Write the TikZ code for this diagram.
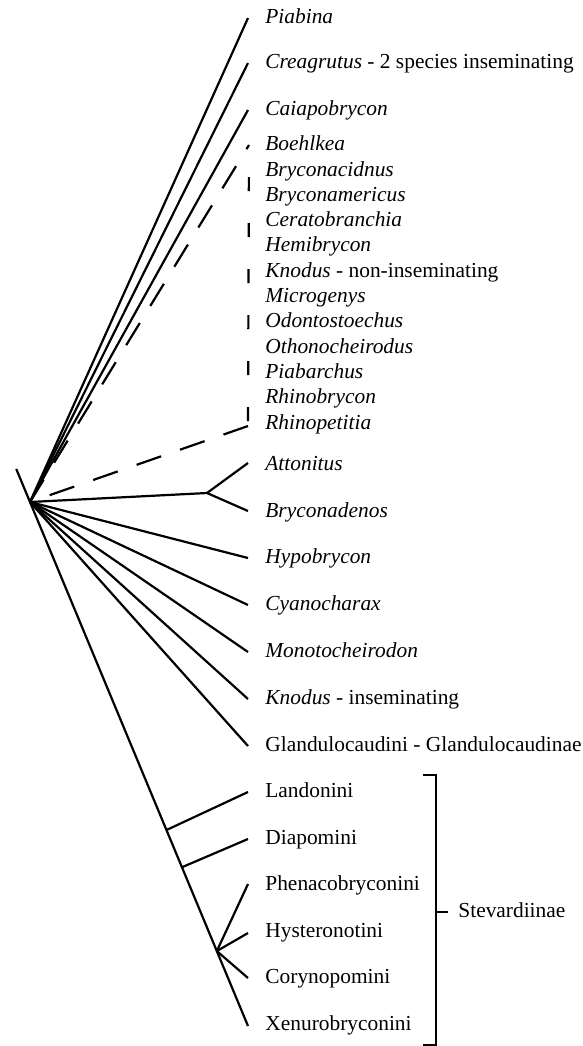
\documentclass[tikz,border=0pt]{standalone}
\usepackage{fontspec}
\setmainfont{Liberation Serif}
\usetikzlibrary{positioning,calc}

\begin{document}
\begin{tikzpicture}[x=0.5pt,y=-0.5pt,
    every node/.style={font=\fontsize{10.7}{12}\selectfont},
    taxon/.style={anchor=west, inner sep=0pt, text height=1.5ex, text depth=.25ex},
    branch/.style={draw=black, line width=1.1pt},
    dashbranch/.style={branch, dash pattern=on 13pt off 10pt}]
  \useasboundingbox (0,0) rectangle (583,1046);
  \coordinate (root) at (30,502);
  % three solid lines on top
  \foreach \nm/\yy/\lab in {piab/18/\textit{Piabina},
      creag/63/{\textit{Creagrutus} - 2 species inseminating},
      caiap/110/\textit{Caiapobrycon}} {
    \coordinate (t\nm) at (248,\yy);
    \node[taxon] (\nm) at (265,\yy) {\lab};
    \draw[branch] (root) -- (t\nm);
  }
  % dashed group
  \coordinate (dTop) at (249,145);
  \coordinate (dBot) at (248,426);
  \draw[dashbranch] (root) -- (dTop);
  \draw[branch, dash pattern=on 7pt off 16pt, dash phase=7pt] (dTop) -- (dBot);
  \draw[dashbranch] (dBot) -- (root);
  \foreach \lab [count=\i from 0] in {\textit{Boehlkea},\textit{Bryconacidnus},
      \textit{Bryconamericus},\textit{Ceratobranchia},\textit{Hemibrycon},
      {\textit{Knodus} - non-inseminating},\textit{Microgenys},\textit{Odontostoechus},
      \textit{Othonocheirodus},\textit{Piabarchus},\textit{Rhinobrycon},\textit{Rhinopetitia}}
    \node[taxon] (g\i) at (265,{145+25.3*\i}) {\lab};
  % Attonitus + Bryconadenos
  \coordinate (nAtto) at (207,493);
  \coordinate (tAtto) at (248,463);
  \coordinate (tBryad) at (248,511);
  \draw[branch] (root) -- (nAtto) -- (tAtto);
  \draw[branch] (nAtto) -- (tBryad);
  \node[taxon] (atto) at (265,465) {\textit{Attonitus}};
  \node[taxon] (bryad) at (265,512) {\textit{Bryconadenos}};
  % fan
  \foreach \nm/\yy/\lab in {hypo/558/\textit{Hypobrycon},
      cyan/605/\textit{Cyanocharax},
      mono/652/\textit{Monotocheirodon},
      knod/699/{\textit{Knodus} - inseminating},
      gland/746/{Glandulocaudini - Glandulocaudinae}} {
    \coordinate (t\nm) at (248,\yy);
    \node[taxon] (\nm) at (265,\yy) {\lab};
    \draw[branch] (root) -- (t\nm);
  }
  % Stevardiinae
  \coordinate (tXen) at (248,1026);
  \coordinate (stub) at ($(root)!-0.063!(tXen)$);
  \draw[branch] (stub) -- (tXen);
  \coordinate (nLand) at ($(root)!0.626!(tXen)$);
  \coordinate (nDiap) at ($(root)!0.697!(tXen)$);
  \coordinate (nStev) at ($(root)!0.857!(tXen)$);
  \coordinate (tLand) at (248,792);
  \coordinate (tDiap) at (248,839);
  \coordinate (tPhen) at (248,884);
  \coordinate (tHyst) at (248,933);
  \coordinate (tCory) at (248,978);
  \draw[branch] (nLand) -- (tLand);
  \draw[branch] (nDiap) -- (tDiap);
  \draw[branch] (nStev) -- (tPhen);
  \draw[branch] (nStev) -- (tHyst);
  \draw[branch] (nStev) -- (tCory);
  \node[taxon] (land) at (265,792) {Landonini};
  \node[taxon] (diap) at (265,839) {Diapomini};
  \node[taxon] (phen) at (265,885) {Phenacobryconini};
  \node[taxon] (hyst) at (265,932) {Hysteronotini};
  \node[taxon] (cory) at (265,978) {Corynopomini};
  \node[taxon] (xen) at (265,1025) {Xenurobryconini};
  % bracket
  \coordinate (bTop) at (423,775);
  \coordinate (bBot) at (423,1045);
  \draw[branch] (bTop) -- ++(13,0) |- (bBot);
  \coordinate (bMid) at (436,912);
  \draw[branch] (bMid) -- ++(12,0) coordinate (bTick);
  \node[taxon, right=5pt of bTick] (stev) {Stevardiinae};
\end{tikzpicture}
\end{document}
